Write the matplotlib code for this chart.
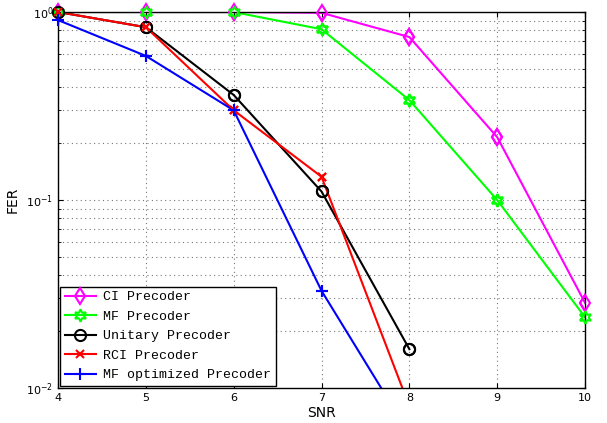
import numpy as np
import matplotlib
matplotlib.use('Agg')
import matplotlib.pyplot as plt

snr = [4, 5, 6, 7, 8, 9, 10]
snr_short = [4, 5, 6, 7, 8]

fer_ci = [1.0, 1.0, 1.0, 0.99, 0.736, 0.216, 0.0284]
fer_mf = [1.0, 1.0, 1.0, 0.81, 0.34, 0.1, 0.0238]
fer_unitary = [1.0, 0.83, 0.362, 0.111, 0.0161]
fer_rci = [1.0, 0.83, 0.30, 0.133, 0.008]
fer_mfopt = [0.906, 0.584, 0.30, 0.0329, 0.0057]

fig = plt.figure(figsize=(6.07, 4.23), dpi=100)
ax = fig.add_axes([0.0956, 0.0827, 0.8682, 0.8889])

hexagram = (6, 1, 0)
series = [
    (snr, fer_ci, '#ff00ff', 'd', 8, 'CI Precoder'),
    (snr, fer_mf, '#00ff00', hexagram, 9, 'MF Precoder'),
    (snr_short, fer_unitary, 'black', 'o', 8, 'Unitary Precoder'),
    (snr_short, fer_rci, 'red', 'x', 6, 'RCI Precoder'),
    (snr_short, fer_mfopt, 'blue', '+', 9, 'MF optimized Precoder'),
]
for x, y, c, m, ms, lab in series:
    ax.semilogy(x, y, color=c, marker=m, markersize=ms, mfc='none',
                mew=1.5, lw=1.5, label=lab)
    # redraw in-range markers unclipped so they show on the axes edges
    xs = [a for a, b in zip(x, y) if b >= 0.01]
    ys = [b for b in y if b >= 0.01]
    ax.semilogy(xs, ys, linestyle='none', color=c, marker=m, markersize=ms,
                mfc='none', mew=1.5, clip_on=False, zorder=3)

ax.set_xlim(4, 10)
ax.set_ylim(1e-2, 1)
ax.set_xticks(snr)
ax.grid(True, which='major', linestyle=(0, (1, 3)), color='#777777', linewidth=0.8)
ax.grid(True, which='minor', axis='y', linestyle=(0, (1, 3)), color='#777777', linewidth=0.8)
ax.tick_params(which='both', direction='in', top=True, right=True, labelsize=8)
for sp in ax.spines.values():
    sp.set_linewidth(1.0)

ax.set_xlabel('SNR', fontsize=10)
ax.xaxis.set_label_coords(0.5, -0.048)
ax.set_ylabel('FER', fontsize=10)
ax.yaxis.set_label_coords(-0.072, 0.5)

leg = ax.legend(loc='lower left', prop={'family': 'Liberation Mono', 'size': 9.5},
                fancybox=False, framealpha=1, edgecolor='black', borderaxespad=0.15,
                handlelength=2.4, labelspacing=0.55, borderpad=0.35, handletextpad=0.5)
leg.get_frame().set_linewidth(1.0)

fig.savefig('out.png', dpi=100)
